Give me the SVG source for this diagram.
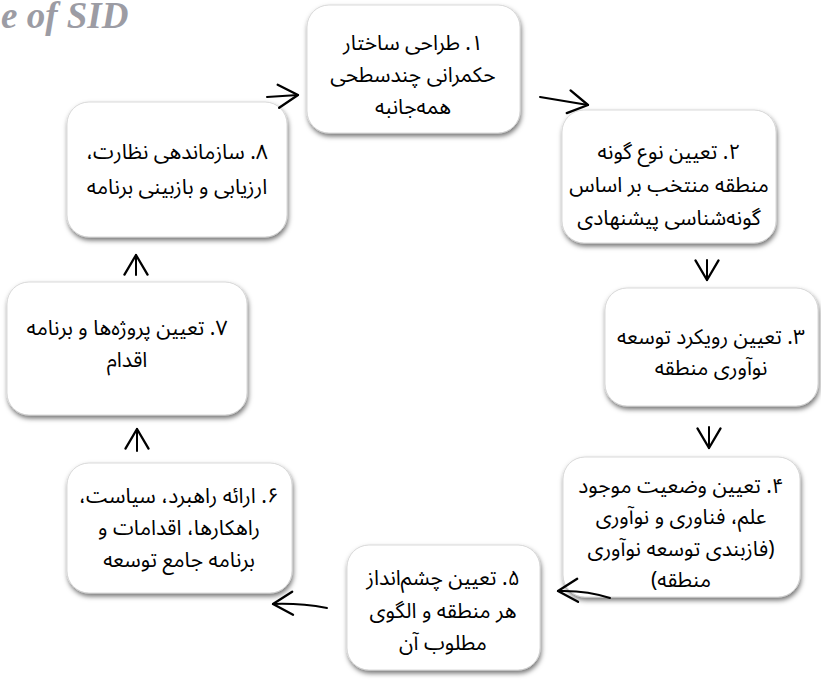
<svg xmlns="http://www.w3.org/2000/svg" width="821" height="680" viewBox="0 0 821 680">
<style>
.box{fill:#ffffff;stroke:#cfcfcf;stroke-width:0.8;filter:url(#sh)}
.t{font-family:"Noto Sans Arabic","DejaVu Sans",sans-serif;font-size:21px;fill:#000;text-anchor:middle;direction:rtl}
.c{fill:none;stroke:#000;stroke-width:2;stroke-linecap:round;marker-end:url(#ah)}
.wm{font-family:"Liberation Serif",serif;font-weight:bold;font-style:italic;font-size:37px;fill:#9c9ca4}
</style>
<defs>
<filter id="sh" x="-10%" y="-10%" width="125%" height="130%">
<feDropShadow dx="1" dy="3" stdDeviation="2.5" flood-color="#000" flood-opacity="0.55"/>
</filter>
<marker id="ah" markerUnits="userSpaceOnUse" markerWidth="30" markerHeight="30" refX="0" refY="0" viewBox="-20 -13 24 26" orient="auto" overflow="visible">
<path d="M-17,-10 L0,0 L-17,10" fill="none" stroke="#000" stroke-width="2" stroke-linecap="round" stroke-linejoin="round"/>
</marker>
</defs>
<rect width="821" height="680" fill="#ffffff"/>
<text class="wm" x="1" y="28">e of SID</text>

<g id="n1"><rect class="box" x="307" y="5" width="213" height="128" rx="22"/>
<text class="t" x="413" y="50">۱. طراحی ساختار</text>
<text class="t" x="413" y="82">حکمرانی چندسطحی</text>
<text class="t" x="413" y="114">همه‌جانبه</text></g>

<g id="n2"><rect class="box" x="562" y="110" width="214" height="133" rx="22"/>
<text class="t" x="669" y="159">۲. تعیین نوع گونه</text>
<text class="t" x="669" y="192">منطقه منتخب بر اساس</text>
<text class="t" x="669" y="225">گونه‌شناسی پیشنهادی</text></g>

<g id="n3"><rect class="box" x="605" y="288" width="213" height="118" rx="22"/>
<text class="t" x="711" y="344">۳. تعیین رویکرد توسعه</text>
<text class="t" x="711" y="375">نوآوری منطقه</text></g>

<g id="n4"><rect class="box" x="563" y="457" width="237" height="140" rx="22"/>
<text class="t" x="681" y="493">۴. تعیین وضعیت موجود</text>
<text class="t" x="681" y="524">علم، فناوری و نوآوری</text>
<text class="t" x="681" y="556">(فازبندی توسعه نوآوری</text>
<text class="t" x="681" y="587">منطقه)</text></g>

<g id="n5"><rect class="box" x="347" y="545" width="193" height="125" rx="22"/>
<text class="t" x="443" y="585">۵. تعیین چشم‌انداز</text>
<text class="t" x="443" y="618">هر منطقه و الگوی</text>
<text class="t" x="443" y="650">مطلوب آن</text></g>

<g id="n6"><rect class="box" x="67" y="463" width="225" height="130" rx="22"/>
<text class="t" x="179" y="503">۶. ارائه راهبرد، سیاست،</text>
<text class="t" x="179" y="535">راهکارها، اقدامات و</text>
<text class="t" x="179" y="567">برنامه جامع توسعه</text></g>

<g id="n7"><rect class="box" x="7" y="282" width="240" height="133" rx="22"/>
<text class="t" x="127" y="335">۷. تعیین پروژه‌ها و برنامه</text>
<text class="t" x="127" y="367">اقدام</text></g>

<g id="n8"><rect class="box" x="67" y="102" width="220" height="135" rx="22"/>
<text class="t" x="177" y="159">۸. سازماندهی نظارت،</text>
<text class="t" x="177" y="194">ارزیابی و بازبینی برنامه</text></g>

<g id="connectors">
<path class="c" d="M267,97 L298,95"/>
<path class="c" d="M540,97 L588,105"/>
<path class="c" d="M707,260 L707,280"/>
<path class="c" d="M709,427 L709,448"/>
<path class="c" d="M610,598 Q586,590 558,591"/>
<path class="c" d="M327,608 Q300,603 273,604"/>
<path class="c" d="M137,451 L137,429"/>
<path class="c" d="M136,275 L136,255"/>
</g>
</svg>
